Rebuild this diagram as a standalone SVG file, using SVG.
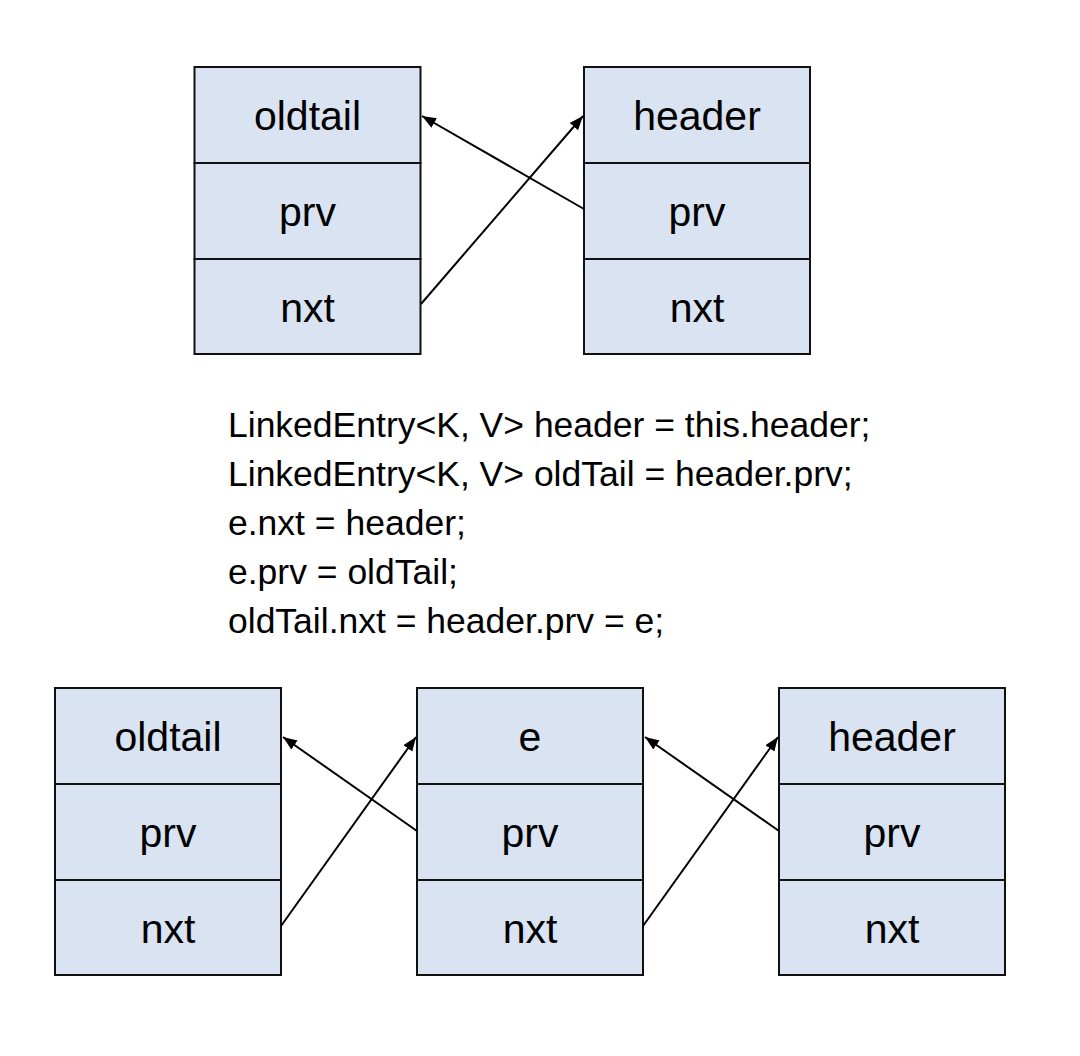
<svg xmlns="http://www.w3.org/2000/svg" width="1080" height="1056" viewBox="0 0 1080 1056">
<style>
.cell{fill:#d9e3f1;stroke:#111;stroke-width:2}
.lbl{font-family:"Liberation Sans",Arial,sans-serif;font-size:41px;fill:#000;text-anchor:middle}
.code{font-family:"Liberation Sans",Arial,sans-serif;font-size:35.5px;fill:#000}
.conn{stroke:#000;stroke-width:2;fill:none;marker-end:url(#arr)}
</style>
<defs>
<marker id="arr" markerUnits="userSpaceOnUse" markerWidth="15" markerHeight="12" refX="14" refY="5.5" orient="auto">
<path d="M0,0 L14,5.5 L0,11 z" fill="#000"/>
</marker>
</defs>
<rect width="1080" height="1056" fill="#fff"/>

<g id="top-oldtail">
<rect class="cell" x="194.5" y="67" width="226" height="96"/>
<rect class="cell" x="194.5" y="163" width="226" height="96"/>
<rect class="cell" x="194.5" y="259" width="226" height="95"/>
<text class="lbl" x="307.5" y="130">oldtail</text>
<text class="lbl" x="307.5" y="226">prv</text>
<text class="lbl" x="307.5" y="322">nxt</text>
</g>

<g id="top-header">
<rect class="cell" x="584" y="67" width="226" height="96"/>
<rect class="cell" x="584" y="163" width="226" height="96"/>
<rect class="cell" x="584" y="259" width="226" height="95"/>
<text class="lbl" x="697" y="130">header</text>
<text class="lbl" x="697" y="226">prv</text>
<text class="lbl" x="697" y="322">nxt</text>
</g>

<g id="code">
<text class="code" x="228" y="437">LinkedEntry&lt;K, V&gt; header = this.header;</text>
<text class="code" x="228" y="486">LinkedEntry&lt;K, V&gt; oldTail = header.prv;</text>
<text class="code" x="228" y="535">e.nxt = header;</text>
<text class="code" x="228" y="584">e.prv = oldTail;</text>
<text class="code" x="228" y="633">oldTail.nxt = header.prv = e;</text>
</g>

<g id="bottom-oldtail">
<rect class="cell" x="55" y="688" width="226" height="96"/>
<rect class="cell" x="55" y="784" width="226" height="96"/>
<rect class="cell" x="55" y="880" width="226" height="95"/>
<text class="lbl" x="168" y="751">oldtail</text>
<text class="lbl" x="168" y="847">prv</text>
<text class="lbl" x="168" y="943">nxt</text>
</g>

<g id="bottom-e">
<rect class="cell" x="417" y="688" width="226" height="96"/>
<rect class="cell" x="417" y="784" width="226" height="96"/>
<rect class="cell" x="417" y="880" width="226" height="95"/>
<text class="lbl" x="530" y="751">e</text>
<text class="lbl" x="530" y="847">prv</text>
<text class="lbl" x="530" y="943">nxt</text>
</g>

<g id="bottom-header">
<rect class="cell" x="779" y="688" width="226" height="96"/>
<rect class="cell" x="779" y="784" width="226" height="96"/>
<rect class="cell" x="779" y="880" width="226" height="95"/>
<text class="lbl" x="892" y="751">header</text>
<text class="lbl" x="892" y="847">prv</text>
<text class="lbl" x="892" y="943">nxt</text>
</g>

<g id="connectors">
<line class="conn" x1="584" y1="209" x2="422" y2="116"/>
<line class="conn" x1="421" y1="304" x2="583" y2="116"/>
<line class="conn" x1="417" y1="831" x2="283" y2="737"/>
<line class="conn" x1="281" y1="926" x2="416" y2="737"/>
<line class="conn" x1="779" y1="831" x2="645" y2="737"/>
<line class="conn" x1="643" y1="926" x2="778" y2="737"/>
</g>
</svg>
